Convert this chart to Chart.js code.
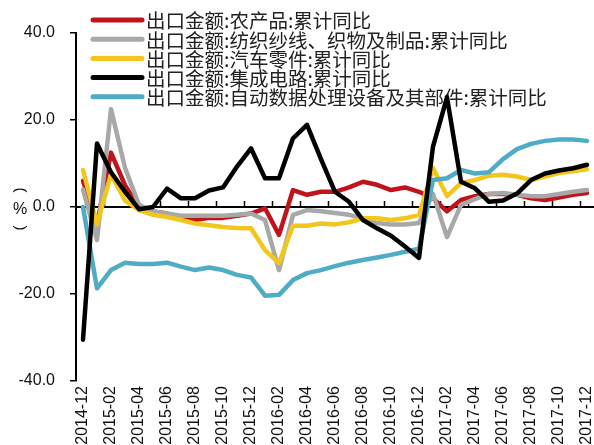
<!DOCTYPE html>
<html>
<head>
<meta charset="utf-8">
<script src="https://cdn.jsdelivr.net/npm/chart.js@4/dist/chart.umd.min.js"></script>
<style>
  html, body { margin: 0; padding: 0; background: #fff; }
</style>
</head>
<body>
<canvas id="exportChart" width="594" height="445"></canvas>
<script>
// Monthly export value, cumulative YoY (%)
const months = [
  '2014-12', '2015-01', '2015-02', '2015-03', '2015-04', '2015-05', '2015-06', '2015-07', '2015-08',
  '2015-09', '2015-10', '2015-11', '2015-12', '2016-01', '2016-02', '2016-03', '2016-04', '2016-05',
  '2016-06', '2016-07', '2016-08', '2016-09', '2016-10', '2016-11', '2016-12', '2017-01', '2017-02',
  '2017-03', '2017-04', '2017-05', '2017-06', '2017-07', '2017-08', '2017-09', '2017-10', '2017-11',
  '2017-12'
];

const agriProducts = [
  6, -4, 12.5, 5, 0, -1, -1.5, -2.5, -3, -2.5, -2.5, -2, -1.5, -0.3, -6.4, 3.9, 2.8, 3.5,
  3.5, 4.5, 5.8, 5.1, 3.9, 4.5, 3.5, 2, -1, 1.6, 2.5, 3, 3, 2.8, 2, 1.6, 2.2, 2.8, 3.2
];
const textiles = [
  4, -7.6, 22.5, 9, 0.5, -1, -1.5, -2, -2, -2, -2, -1.8, -1.5, -3, -14.5, -1.8, -0.7, -1,
  -1.4, -1.8, -2.6, -3.7, -4, -4, -3.7, 3, -6.9, 0.5, 1.8, 3, 3.2, 2.8, 2.5, 2.5, 3, 3.5, 3.9
];
const autoParts = [
  8.5, -4, 7.5, 1.5, -0.7, -1.8, -2.3, -3, -3.8, -4.2, -4.6, -4.8, -4.9, -9.9, -12.9, -4.3, -4.3, -3.8,
  -4, -3.5, -2.6, -2.6, -3, -2.6, -1.8, 9, 2.5, 5.5, 6.2, 7.2, 7.4, 7, 6.2, 7, 7.8, 8.2, 8.7
];
const integratedCircuits = [
  -30.5, 14.6, 8, 3.5, -0.5, 0, 4.2, 2, 2, 3.8, 4.5, 9.3, 13.5, 6.6, 6.6, 15.8, 18.9, 11,
  3.5, 1.2, -3, -4.9, -6.6, -9.1, -11.7, 13.9, 25.2, 5.8, 4.3, 1.2, 1.5, 3.1, 6.2, 7.7, 8.4, 8.9, 9.7
];
const dataProcessing = [
  0, -18.7, -14.5, -12.8, -13.1, -13.1, -12.8, -13.7, -14.5, -13.9, -14.5, -15.6, -16.2, -20.4, -20.2, -16.8, -15.2, -14.5,
  -13.6, -12.8, -12.2, -11.6, -11, -10.3, -9.6, 6.2, 6.6, 8.5, 7.7, 8, 11, 13.3, 14.5, 15.2, 15.5, 15.5, 15.2
];

const seriesNames = [
  '出口金额:农产品:累计同比',
  '出口金额:纺织纱线、织物及制品:累计同比',
  '出口金额:汽车零件:累计同比',
  '出口金额:集成电路:累计同比',
  '出口金额:自动数据处理设备及其部件:累计同比'
];
const seriesData = [agriProducts, textiles, autoParts, integratedCircuits, dataProcessing];
const seriesColors = ['#c0141c', '#a8a8a8', '#f3c61d', '#000000', '#4eacc4'];
const drawOrder = [4, 3, 2, 0, 1];

const yTicks = [-40, -20, 0, 20, 40];

// legend block sitting inside the plot, lines are drawn over it
const legendBox = {
  id: 'legendBox',
  beforeDatasetsDraw(chart) {
    const c = chart.ctx;
    c.save();
    c.font = '19.5px "Noto Sans CJK SC"';
    c.textBaseline = 'middle';
    c.textAlign = 'left';
    chart.data.datasets.forEach((ds, i) => {
      const y = 20 + i * 19.2;
      c.strokeStyle = ds.borderColor;
      c.lineWidth = 5;
      c.lineCap = 'round';
      c.beginPath();
      c.moveTo(93, y);
      c.lineTo(142, y);
      c.stroke();
      c.fillStyle = '#222';
      c.fillText(ds.label, 146, y + 1);
    });
    c.restore();
  }
};

// category axis crossing at zero, with tick marks between months
const zeroAxis = {
  id: 'zeroAxis',
  beforeDatasetsDraw(chart) {
    const { ctx: c, chartArea: a, scales: { x, y } } = chart;
    const y0 = y.getPixelForValue(0);
    const half = (x.getPixelForValue(1) - x.getPixelForValue(0)) / 2;
    c.save();
    c.strokeStyle = '#000';
    c.lineWidth = 2;
    c.beginPath();
    c.moveTo(a.left, y0);
    c.lineTo(a.right, y0);
    c.stroke();
    c.lineWidth = 1.5;
    months.forEach((m, i) => {
      if (i === 0 || i % 2) return;
      const px = Math.round(x.getPixelForValue(i) - half) + 0.5;
      c.beginPath();
      c.moveTo(px, y0);
      c.lineTo(px, y0 - 6);
      c.stroke();
    });

    // vertical unit label: turned brackets around %
    c.fillStyle = '#111';
    c.textAlign = 'center';
    c.textBaseline = 'middle';
    c.font = '16px "Liberation Sans"';
    c.fillText('%', 20, 210);
    c.font = '15px "Liberation Sans"';
    [['(', 190], [')', 228]].forEach(([s, py]) => {
      c.save();
      c.translate(20, py);
      c.rotate(Math.PI / 2);
      c.fillText(s, 0, 0);
      c.restore();
    });
    c.restore();
  }
};

new Chart(document.getElementById('exportChart'), {
  type: 'line',
  data: {
    labels: months,
    datasets: seriesNames.map((name, i) => ({
      label: name,
      data: seriesData[i],
      borderColor: seriesColors[i],
      backgroundColor: seriesColors[i],
      borderWidth: 4.5,
      borderJoinStyle: 'round',
      borderCapStyle: 'round',
      pointRadius: 0,
      tension: 0,
      order: drawOrder[i]
    }))
  },
  options: {
    responsive: false,
    animation: false,
    devicePixelRatio: 1,
    layout: { padding: { top: 33, right: 0, bottom: 0, left: 0 } },
    plugins: {
      legend: { display: false },
      tooltip: { enabled: false }
    },
    scales: {
      x: {
        offset: true,
        grid: { display: false, drawTicks: false },
        border: { display: false },
        ticks: {
          autoSkip: false,
          minRotation: 90,
          maxRotation: 90,
          padding: 5,
          color: '#111',
          font: { family: 'Liberation Sans', size: 16 },
          callback: (v, i) => (i % 2 === 0 ? months[i] : '')
        },
        afterFit(s) {
          s.height = 64;
          s.paddingLeft = 0;
          s.paddingRight = 0;
        }
      },
      y: {
        min: -40,
        max: 40,
        afterBuildTicks(s) {
          s.ticks = yTicks.map(v => ({ value: v }));
        },
        ticks: {
          padding: 15,
          color: '#111',
          font: { family: 'Liberation Sans', size: 16 },
          callback: v => v.toFixed(1)
        },
        grid: { drawOnChartArea: false, drawTicks: true, tickLength: 6, color: '#000', lineWidth: 1.5 },
        border: { color: '#000', width: 2 },
        afterFit(s) {
          s.width = 76;
        }
      }
    }
  },
  plugins: [legendBox, zeroAxis]
});
</script>
</body>
</html>
